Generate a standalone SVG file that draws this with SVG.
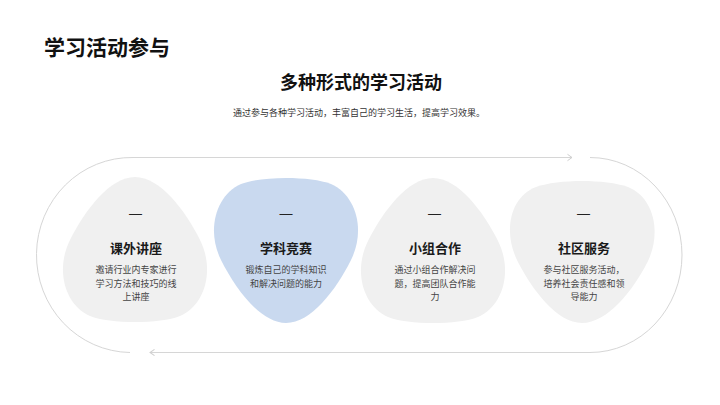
<svg xmlns="http://www.w3.org/2000/svg" width="720" height="405" viewBox="0 0 720 405">
  <defs>
    <style>
      text { font-family: 'Noto Sans CJK SC', 'Noto Sans', sans-serif; text-anchor: middle; }
      .h1 { font-size: 21px; font-weight: 700; fill: #111; text-anchor: start; }
      .h2 { font-size: 18px; font-weight: 700; fill: #111; }
      .sub { font-size: 9px; fill: #333; }
      .dash { font-family: 'Liberation Sans', sans-serif; font-size: 13px; fill: #222; }
      .title { font-size: 13px; font-weight: 700; fill: #1a1a1a; }
      .desc { font-size: 9px; fill: #444; }
      .gray { fill: #f0f0f0; }
      .blue { fill: #c9d9ef; }
      .loop { fill: none; stroke: #d6d6d6; stroke-width: 1; }
    </style>
    <marker id="chev" markerUnits="userSpaceOnUse" markerWidth="10" markerHeight="10" viewBox="-6 -5 8 10" refX="0" refY="0" orient="auto">
      <path d="M-4.5,-3.2 L0,0 L-4.5,3.2" fill="none" stroke="#cfcfcf" stroke-width="1"/>
    </marker>
  </defs>

  <rect width="720" height="405" fill="#ffffff"/>

  <text class="h1" x="44" y="55">学习活动参与</text>
  <text class="h2" x="361" y="88.5">多种形式的学习活动</text>
  <text class="sub" x="359" y="116">通过参与各种学习活动，丰富自己的学习生活，提高学习效果。</text>

  <g id="connectors">
    <path class="loop" d="M130,352.5 A95,97.5 0 0 1 133,157.5 L572,157.5" marker-end="url(#chev)"/>
    <path class="loop" d="M590,157.5 A92,97.5 0 0 1 590,352.5 L150,352.5" marker-end="url(#chev)"/>
  </g>

  <g id="node1">
    <path class="gray" d="M135,177 C160,177 185,210 200,240 C215,270 205,305 180,316 C160,324 110,324 90,316 C65,305 55,270 70,240 C85,210 110,177 135,177 Z"/>
    <text class="dash" x="135.5" y="217.5">—</text>
    <text class="title" x="136" y="252.5">课外讲座</text>
    <text class="desc" x="136" y="273.3">邀请行业内专家进行</text>
    <text class="desc" x="136" y="286.6">学习方法和技巧的线</text>
    <text class="desc" x="136" y="300">上讲座</text>
  </g>

  <g id="node2">
    <path class="blue" d="M286,323 C311,323 336,290 351,260 C366,230 356,195 331,184 C311,176 261,176 241,184 C216,195 206,230 221,260 C236,290 261,323 286,323 Z"/>
    <text class="dash" x="286" y="217.5">—</text>
    <text class="title" x="286" y="252.5">学科竞赛</text>
    <text class="desc" x="286" y="273.3">锻炼自己的学科知识</text>
    <text class="desc" x="286" y="286.6">和解决问题的能力</text>
  </g>

  <g id="node3">
    <path class="gray" d="M433,178 C458,178 483,211 498,241 C513,271 503,306 478,317 C458,325 408,325 388,317 C363,306 353,271 368,241 C383,211 408,178 433,178 Z"/>
    <text class="dash" x="434.5" y="217.5">—</text>
    <text class="title" x="435" y="252.5">小组合作</text>
    <text class="desc" x="435" y="273.3">通过小组合作解决问</text>
    <text class="desc" x="435" y="286.6">题，提高团队合作能</text>
    <text class="desc" x="435" y="300">力</text>
  </g>

  <g id="node4">
    <path class="gray" d="M582,323 C607,323 633,291 648,261 C662,231 653,197 628,187 C606,179 558,179 536,187 C510,197 503,231 517,260 C532,290 557,323 582,323 Z"/>
    <text class="dash" x="583.5" y="217.5">—</text>
    <text class="title" x="584" y="252.5">社区服务</text>
    <text class="desc" x="584" y="273.3">参与社区服务活动，</text>
    <text class="desc" x="584" y="286.6">培养社会责任感和领</text>
    <text class="desc" x="584" y="300">导能力</text>
  </g>
</svg>
